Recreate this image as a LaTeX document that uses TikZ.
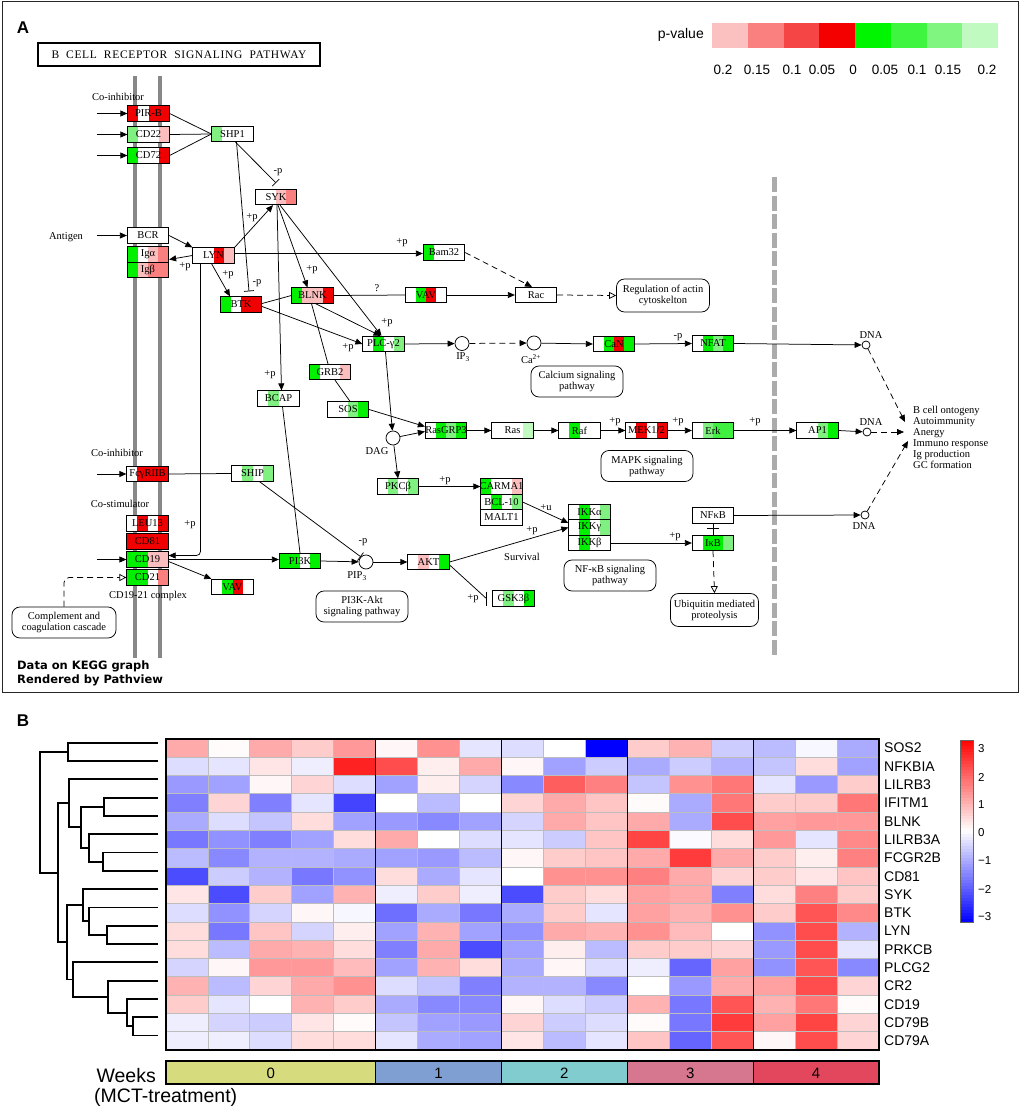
\documentclass[tikz,border=0pt]{standalone}
\usepackage{fontspec}
\setmainfont{Liberation Serif}
\newfontfamily\sansf{Liberation Sans}
\newfontfamily\dejaf{DejaVu Sans}
\usetikzlibrary{arrows.meta}
\definecolor{kW}{HTML}{FFFFFF}
\definecolor{kR}{HTML}{F00000}
\definecolor{kP}{HTML}{FA8080}
\definecolor{kLP}{HTML}{FBBEBE}
\definecolor{kG}{HTML}{00F000}
\definecolor{kMG}{HTML}{40F040}
\definecolor{kLG}{HTML}{80F080}
\definecolor{kVLG}{HTML}{C0FAC0}
\definecolor{memb}{HTML}{888888}
\definecolor{divg}{HTML}{ABABAB}
\definecolor{lga}{HTML}{FBC0C0}
\definecolor{lgb}{HTML}{FA8080}
\definecolor{lgc}{HTML}{F54545}
\definecolor{lgd}{HTML}{F50000}
\definecolor{lge}{HTML}{00F500}
\definecolor{lgf}{HTML}{40F540}
\definecolor{lgg}{HTML}{80F580}
\definecolor{lgh}{HTML}{C0FAC0}
\definecolor{wka}{HTML}{D6DB7E}
\definecolor{wkb}{HTML}{7F9FD2}
\definecolor{wkc}{HTML}{80CCCF}
\definecolor{wkd}{HTML}{D6768F}
\definecolor{wke}{HTML}{E2475E}
\definecolor{cellg}{HTML}{BDBDBD}
\newcommand\genefont{\fontsize{10.5}{11}\selectfont}
\newcommand\lblfont{\fontsize{10.5}{11}\selectfont}
\newcommand\pwfont{\fontsize{10.5}{11}\selectfont}
\newcommand\gene[4]{\node[gbox, path picture={\foreach \cc [count=\ii from 0] in {#4}{\fill[\cc] ([xshift=\ii*10.375pt]path picture bounding box.south west) rectangle ([xshift=\ii*10.375pt+10.375pt]path picture bounding box.north west);}}] (#1) at (#2) {\makebox[0pt][c]{#3}};}
\tikzset{
 gbox/.style={draw, line width=0.75pt, minimum width=41.5pt, minimum height=15.5pt, inner sep=0pt, font=\genefont},
 cmp/.style={circle, draw, line width=0.75pt, minimum size=14pt, inner sep=0pt, fill=white},
 dnac/.style={circle, draw, line width=0.75pt, minimum size=8pt, inner sep=0pt, fill=white},
 pw/.style={draw, rounded corners=8pt, line width=0.75pt, align=center, font=\pwfont, inner sep=1pt, minimum width=92pt, minimum height=31pt},
 lbl/.style={font=\lblfont, inner sep=0pt},
 actv/.style={-{Triangle[length=7pt,width=6pt]}, line width=0.75pt},
 inhb/.style={-{Bar[width=10pt]}, line width=0.75pt},
 lnk/.style={line width=0.75pt},
 indr/.style={dash pattern=on 6pt off 4pt, line width=0.75pt, -{Triangle[length=7pt,width=6pt]}},
 indo/.style={dash pattern=on 6pt off 4pt, line width=0.75pt, -{Triangle[open,length=7pt,width=7pt]}},
 hlab/.style={font=\sansf\fontsize{14}{14}\selectfont, anchor=west, inner sep=0pt},
 cblab/.style={font=\sansf\fontsize{11.5}{12}\selectfont, anchor=west, inner sep=0pt},
 dendro/.style={line width=1.8pt, line join=miter},
}
\begin{document}
\begin{tikzpicture}[x=1pt,y=-1pt]
\useasboundingbox (0,0) rectangle (1021,1110);
\fill[white] (0,0) rectangle (1021,1110);
% ================= PANEL A =================
\draw[line width=1pt, black!85] (2,2) rectangle (1018,692);
\node[font=\sansf\bfseries\fontsize{17}{17}\selectfont, inner sep=0pt] (LA) at (23,28) {A};
\node[draw, line width=1.4pt, minimum width=282pt, minimum height=23pt, inner sep=0pt, font=\fontsize{11.5}{12}\selectfont] (TITLE) at (179,54.5) {\makebox[255pt][s]{\addfontfeature{LetterSpace=6}B CELL RECEPTOR SIGNALING PATHWAY}};
% membranes and divider
\draw[line width=3.5pt, memb] (135,76) -- (135,658);
\draw[line width=3.5pt, memb] (160,76) -- (160,658);
\draw[line width=5pt, divg, dash pattern=on 15pt off 3.5pt] (774,177) -- (774,655);
% legend
\node[font=\sansf\fontsize{14}{14}\selectfont, anchor=east, inner sep=0pt] (PV) at (704,35) {p-value};
\foreach \cc [count=\i from 0] in {lga,lgb,lgc,lgd,lge,lgf,lgg,lgh}
  \fill[\cc] ({712+\i*35.75},23) rectangle ({712+(\i+1)*35.75},48);
\foreach \t/\xx [count=\i] in {0.2/723,0.15/757,0.1/792,0.05/822,0/853,0.05/885,0.1/917,0.15/948,0.2/987}
  \node[font=\sansf\fontsize{13.5}{14}\selectfont, inner sep=0pt] (lv\i) at (\xx,70) {\t};
% gene boxes
\gene{PIRB}{148.5,113.5}{PIR-B}{kR,kW,kR,kR}
\gene{CD22}{148.5,134.5}{CD22}{kLG,kW,kW,kLP}
\gene{CD72}{148.5,155.5}{CD72}{kG,kW,kW,kR}
\gene{SHP1}{232.5,134}{SHP1}{kLG,kW,kW,kW}
\gene{SYK}{276,197}{SYK}{kW,kW,kLP,kP}
\gene{BCR}{148,235.5}{BCR}{kW,kW,kW,kW}
\gene{IGA}{148,254.5}{Igα}{kG,kW,kLP,kP}
\gene{IGB}{148,270}{Igβ}{kG,kLP,kP,kP}
\gene{LYN}{213.5,255.5}{LYN}{kW,kW,kR,kLP}
\gene{BTK}{241,304.5}{BTK}{kG,kW,kR,kR}
\gene{BLNK}{312.5,295.5}{BLNK}{kG,kLP,kLP,kR}
\gene{BAM}{444,252.5}{Bam32}{kG,kW,kW,kW}
\gene{VAVa}{426,295}{VAV}{kW,kG,kR,kW}
\gene{RAC}{536,295}{Rac}{kW,kW,kW,kW}
\gene{PLC}{383.5,344}{PLC-γ2}{kW,kG,kW,kLG}
\gene{GRB}{330,372}{GRB2}{kG,kW,kW,kLP}
\gene{SOS}{348,409.5}{SOS}{kW,kW,kLG,kG}
\gene{BCAP}{278.5,398.5}{BCAP}{kW,kLG,kW,kW}
\gene{RGRP}{446,430.5}{RasGRP3}{kW,kG,kLG,kG}
\gene{RAS}{512.5,430.5}{Ras}{kW,kW,kW,kVLG}
\gene{RAF}{579.5,430.5}{Raf}{kW,kG,kW,kW}
\gene{MEK}{646.5,430.5}{MEK1/2}{kW,kR,kW,kR}
\gene{ERK}{713,430.5}{Erk}{kW,kLG,kMG,kMG}
\gene{APa}{817.5,430.5}{AP1}{kW,kW,kLG,kG}
\gene{CAN}{614,344}{CaN}{kW,kG,kR,kG}
\gene{NFAT}{713,343.5}{NFAT}{kW,kG,kLG,kG}
\gene{PKCB}{398,486.5}{PKCβ}{kW,kLG,kW,kLG}
\gene{CARMA}{501.5,486.5}{CARMA1}{kG,kW,kW,kLP}
\gene{BCLt}{501.5,502}{BCL-10}{kW,kG,kW,kLG}
\gene{MALT}{501.5,517.5}{MALT1}{kW,kW,kW,kW}
\gene{IKKA}{589.5,512}{IKKα}{kW,kG,kW,kLG}
\gene{IKKG}{589.5,527.5}{IKKγ}{kW,kG,kW,kLG}
\gene{IKKB}{589.5,543}{IKKβ}{kW,kG,kW,kW}
\gene{NFKB}{713,515.5}{NFκB}{kW,kW,kW,kW}
\gene{IKB}{713,543}{IκB}{kW,kG,kG,kLG}
\gene{FCG}{147.5,474}{FcγRIIB}{kW,kR,kR,kR}
\gene{SHIP}{252.5,473.5}{SHIP}{kW,kLG,kW,kLG}
\gene{LEU}{147.5,523.5}{LEU13}{kW,kR,kW,kR}
\gene{CD81}{147.5,541.5}{CD81}{kR,kR,kR,kR}
\gene{CD19}{147.5,559.5}{CD19}{kG,kG,kLP,kLP}
\gene{CD21}{147.5,577.5}{CD21}{kG,kG,kW,kP}
\gene{PIK}{300,561}{PI3K}{kG,kG,kW,kG}
\gene{VAVb}{232.5,587}{VAV}{kW,kG,kR,kW}
\gene{AKT}{428.5,562}{AKT}{kW,kLP,kW,kG}
\gene{GSK}{513.5,598.5}{GSK3β}{kW,kLG,kW,kG}
% compounds
\node[cmp] (IP) at (462,343.5) {};
\node[cmp] (CA) at (534,343) {};
\node[cmp] (DAG) at (393,438) {};
\node[cmp] (PIP) at (366,562) {};
\node[dnac] (DNAa) at (866,345) {};
\node[dnac] (DNAb) at (867,432) {};
\node[dnac] (DNAc) at (865,515) {};
% pathway boxes
\node[pw, minimum width=93pt, minimum height=33pt] (REG) at (663,295.5) {Regulation of actin\\cytoskelton};
\node[pw] (CALC) at (577,381.5) {Calcium signaling\\pathway};
\node[pw] (MAPK) at (647,466) {MAPK signaling\\pathway};
\node[pw] (NFPW) at (610,575.5) {NF-κB signaling\\pathway};
\node[pw] (PIPW) at (362,606.5) {PI3K-Akt\\signaling pathway};
\node[pw, minimum width=88pt, minimum height=33pt] (UBQ) at (714.5,610) {Ubiquitin mediated\\proteolysis};
\node[pw, minimum width=104pt] (CMP) at (64,622.5) {Complement and\\coagulation cascade};
% text labels
\node[lbl] (tCoI) at (118,97) {Co-inhibitor};
\node[lbl] (tAnt) at (66,237) {Antigen};
\node[lbl] (tCoIb) at (117,453) {Co-inhibitor};
\node[lbl] (tCoS) at (120,504) {Co-stimulator};
\node[lbl] (tCplx) at (148,596) {CD19-21 complex};
\node[lbl] (tSurv) at (522,557) {Survival};
\node[lbl] (tDAG) at (377,451) {DAG};
\node[lbl] (tIP) at (463,357) {IP\textsubscript{3}};
\node[lbl] (tCa) at (531,359) {Ca\textsuperscript{2+}};
\node[lbl] (tPIP) at (357,576) {PIP\textsubscript{3}};
\node[lbl] (tDNAa) at (871,335) {DNA};
\node[lbl] (tDNAb) at (871,422) {DNA};
\node[lbl] (tDNAc) at (864,526) {DNA};
\node[lbl, align=left, anchor=north west] (OUT) at (913,406) {B cell ontogeny\\Autoimmunity\\Anergy\\Immuno response\\Ig production\\GC formation};
\node[font=\dejaf\bfseries\fontsize{11.5}{14}\selectfont, align=left, anchor=north west, inner sep=0pt] (CRED) at (17,661) {Data on KEGG graph\\Rendered by Pathview};
% edge labels
\node[lbl] (e1) at (278,172) {-p};
\node[lbl] (e2) at (257,283) {-p};
\node[lbl] (e3) at (185,267) {+p};
\node[lbl] (e4) at (252,218) {+p};
\node[lbl] (e5) at (228,275) {+p};
\node[lbl] (e6) at (402,243) {+p};
\node[lbl] (e7) at (190,525) {+p};
\node[lbl] (e8) at (270,375) {+p};
\node[lbl] (e9) at (312,270) {+p};
\node[lbl] (e10) at (387,323) {+p};
\node[lbl] (e11) at (348,348) {+p};
\node[lbl] (e12) at (377,288) {?};
\node[lbl] (e13) at (445,481) {+p};
\node[lbl] (e14) at (546,508) {+u};
\node[lbl] (e15) at (532,531) {+p};
\node[lbl] (e16) at (675,537) {+p};
\node[lbl] (e17) at (363,542) {-p};
\node[lbl] (e18) at (473,599) {+p};
\node[lbl] (e19) at (678,337) {-p};
\node[lbl] (e20) at (615,422) {+p};
\node[lbl] (e21) at (678,422) {+p};
\node[lbl] (e22) at (755,422) {+p};
% free ends
\coordinate (inPIRB) at (97,113.5);
\coordinate (inCD22) at (97,134.5);
\coordinate (inCD72) at (97,155.5);
\coordinate (inBCR) at (97,235.5);
\coordinate (inFCG) at (97,474);
\coordinate (inCD19) at (97,559.5);
\coordinate (outa) at (905,422);
\coordinate (outb) at (904,432);
\coordinate (outc) at (908,441);
% edges
\draw[actv] (inPIRB) -- (PIRB.west);
\draw[actv] (inCD22) -- (CD22.west);
\draw[actv] (inCD72) -- (CD72.west);
\draw[actv] (inBCR) -- (BCR.west);
\draw[actv] (inFCG) -- (FCG.west);
\draw[actv] (inCD19) -- (CD19.west);
\draw[lnk] (PIRB.east) -- (SHP1.west);
\draw[lnk] (CD22.east) -- (SHP1.west);
\draw[lnk] (CD72.east) -- (SHP1.west);
\draw[inhb] ([xshift=3pt]SHP1.south) -- ([yshift=6pt]SYK.north);
\draw[inhb] ([xshift=4pt]SHP1.south) -- ([xshift=8pt,yshift=5pt]BTK.north);
\draw[actv] (BCR.east) -- (LYN.north west);
\draw[actv] (LYN.west) -- ([yshift=-5pt]IGA.east);
\draw[actv] (LYN.north east) -- ([xshift=-3pt]SYK.south);
\draw[actv] ([yshift=2pt]LYN.east) -- ([yshift=-1pt]BAM.west);
\draw[actv] ([xshift=-2pt]LYN.south) -- ([xshift=-11pt]BTK.north);
\draw[actv, rounded corners=4pt] ([xshift=-13pt]LYN.south) |- ([yshift=4pt]CD19.east);
\draw[actv] ([xshift=1pt]SYK.south) -- ([xshift=3pt]BCAP.north);
\draw[actv] ([xshift=2pt]SYK.south) -- ([xshift=-5pt]BLNK.north);
\draw[actv] ([xshift=4pt]SYK.south) -- ([xshift=-2pt]PLC.north);
\draw[lnk] ([yshift=1pt]BTK.east) -- (BLNK.west);
\draw[actv] ([yshift=-2pt]BTK.east) -- (PLC.west);
\draw[actv] ([xshift=3pt]BLNK.south) -- ([xshift=-3pt]PLC.north);
\draw[lnk] (BLNK.east) -- (VAVa.west);
\draw[actv] (VAVa.east) -- (RAC.west);
\draw[indr] (BAM.east) -- ([xshift=-4pt]RAC.north);
\draw[indo] (RAC.east) -- (REG.west);
\draw[lnk] ([xshift=4pt]BCAP.south) -- (PIK.north);
\draw[lnk] ([xshift=-1pt]BLNK.south) -- ([xshift=-2pt]GRB.north);
\draw[lnk] ([xshift=5pt]GRB.south) -- ([xshift=2pt]SOS.north);
\draw[actv] (SOS.east) -- ([yshift=4pt]RGRP.west);
\draw[actv] ([xshift=2pt]PLC.south) -- (DAG);
\draw[actv] (DAG) -- ([yshift=-1pt]RGRP.west);
\draw[actv] (DAG) -- (PKCB.north);
\draw[actv] (PKCB.east) -- (CARMA.west);
\draw[actv] (BCLt.east) -- ([yshift=4.5pt]IKKG.west);
\draw[actv] (AKT.east) -- (IKKG.west);
\draw[actv] (IKKB.east) -- (IKB.west);
\draw[lnk] (NFKB.south) -- (IKB.north);
\draw[lnk] ([xshift=-6pt,yshift=-5pt]NFKB.south) -- ([xshift=6pt,yshift=-5pt]NFKB.south);
\draw[indo] (IKB.south) -- (UBQ.north);
\draw[actv] (NFKB.east) -- (DNAc);
\draw[indr] (DNAc) -- (outc);
\draw[actv] (PLC.east) -- (IP);
\draw[indr] (IP) -- (CA);
\draw[actv] (CA) -- (CAN.west);
\draw[actv] (CAN.east) -- (NFAT.west);
\draw[actv] (NFAT.east) -- (DNAa);
\draw[indr] (DNAa) -- (outa);
\draw[actv] (RGRP.east) -- (RAS.west);
\draw[actv] (RAS.east) -- (RAF.west);
\draw[actv] (RAF.east) -- (MEK.west);
\draw[actv] (MEK.east) -- (ERK.west);
\draw[actv] (ERK.east) -- (APa.west);
\draw[actv] (APa.east) -- (DNAb);
\draw[indr] (DNAb) -- (outb);
\draw[lnk] (FCG.east) -- (SHIP.west);
\draw[inhb] ([xshift=7pt]SHIP.south) -- (PIP.north west);
\draw[actv] (CD19.east) -- (CD19.east -| PIK.west);
\draw[actv] ([yshift=-2pt]CD19.east) -- (VAVb.north west);
\draw[actv] (PIK.east) -- (PIP);
\draw[actv] (PIP) -- (AKT.west);
\draw[lnk] ([yshift=-3pt]AKT.east) -- ([xshift=-6pt]GSK.west);
\draw[lnk] ([xshift=-6pt,yshift=7pt]GSK.west) -- ([xshift=-6pt,yshift=-7pt]GSK.west);
\draw[indo, rounded corners=5pt] (CMP.north) |- (CD21.west);
% ================= PANEL B =================
\node[font=\sansf\bfseries\fontsize{17}{17}\selectfont, inner sep=0pt] (LB) at (23,721) {B};
\foreach \row [count=\r from 0] in {
{1.0,0.05,1.0,0.6,1.2,0.1,1.3,-0.3,-0.4,0.0,-3.0,0.6,0.9,-0.6,-0.8,-0.1,-1.0},
{-0.4,-0.3,0.3,-0.2,2.6,2.1,0.2,1.0,0.1,-1.1,-0.6,-1.0,-0.6,-0.9,-0.7,0.4,-1.1},
{-1.2,-1.1,0.1,0.5,-0.4,-1.1,0.2,-0.5,-1.4,1.9,1.5,-0.7,1.3,1.6,-0.3,-1.2,0.6},
{-1.5,0.5,-1.5,-0.3,-2.2,0.0,-0.8,0.0,0.5,1.0,0.7,0.05,-1.0,1.6,0.6,0.6,1.6},
{-1.0,-0.4,-0.7,0.4,-1.1,-1.2,-1.4,-1.1,-0.5,1.0,0.7,1.0,-1.0,2.1,1.1,1.2,1.2},
{-1.6,-1.3,-1.5,-1.1,0.4,1.0,0.0,-0.4,-0.3,-0.6,0.7,2.2,-0.05,0.4,1.2,-0.3,1.4},
{-0.8,-1.4,-0.9,-0.9,-1.0,-1.1,-1.2,-0.8,0.1,0.6,0.7,1.0,2.3,1.0,0.6,0.2,1.5},
{-2.1,-0.6,-0.9,-1.6,-1.3,0.4,-1.0,-0.3,0.0,1.3,1.3,1.5,1.0,0.5,0.6,0.3,0.7},
{0.3,-2.1,0.6,-1.1,0.9,-0.2,0.6,-0.2,-2.1,0.6,0.4,1.1,1.0,-1.5,0.4,1.5,0.6},
{-0.4,-1.3,-0.5,0.1,-0.1,-1.7,-1.0,-1.6,-1.0,0.6,-0.3,1.1,0.9,1.3,0.6,2.0,1.4},
{0.4,-1.6,0.7,-0.5,0.2,-1.1,0.9,-1.1,-1.3,1.0,0.9,1.3,0.8,0.0,-1.3,2.1,-0.9},
{0.4,-0.8,1.0,0.9,0.4,-1.5,1.0,-2.1,-1.1,0.2,-0.8,0.6,0.6,0.5,-1.2,2.1,-0.3},
{-0.5,0.1,1.2,1.2,0.8,-1.1,0.9,0.4,-1.0,0.1,-0.4,-0.2,-1.8,1.1,-1.3,2.0,-1.4},
{0.9,-0.8,0.5,1.0,1.3,-0.4,-0.7,-1.5,-0.9,-0.9,-1.4,0.0,-1.2,1.0,1.1,2.1,0.5},
{0.6,-0.3,0.0,0.9,0.6,-1.0,-1.4,-1.4,0.1,-0.4,-0.6,0.9,-1.6,2.0,0.9,1.6,0.05},
{-0.2,-0.5,-0.6,0.3,0.05,-0.7,-1.1,-1.2,0.5,-0.6,-0.4,0.05,-1.6,2.3,1.1,2.2,0.5},
{-0.2,-0.2,-0.4,0.4,0.4,-0.3,-1.0,-1.1,0.3,-0.8,-0.3,0.7,-1.8,2.0,0.1,2.1,0.5}} {
  \foreach \v [count=\c from 0] in \row {
    \pgfmathsetmacro\pct{min(100,abs(\v)*100/3)}
    \pgfmathsetmacro\xa{166+\c*41.941}
    \pgfmathsetmacro\xb{166+(\c+1)*41.941}
    \pgfmathsetmacro\ya{739+\r*18.294}
    \pgfmathsetmacro\yb{739+(\r+1)*18.294}
    \ifdim \v pt<0pt \def\hue{blue}\else\def\hue{red}\fi
    \fill[\hue!\pct!white, draw=cellg, line width=0.8pt] (\xa,\ya) rectangle (\xb,\yb);
  }
}
\foreach \xx in {375.7,501.5,627.3,753.2}
  \draw[line width=1.3pt] (\xx,739) -- (\xx,1050);
\draw[line width=2pt] (166,739) rectangle (879,1050);
\foreach \nm [count=\i from 0] in {SOS2,NFKBIA,LILRB3,IFITM1,BLNK,LILRB3A,FCGR2B,CD81,SYK,BTK,LYN,PRKCB,PLCG2,CR2,CD19,CD79B,CD79A}
  \node[hlab] (rl\i) at (884,{748.15+18.294*\i}) {\nm};
% dendrogram
\draw[dendro] (158,742.7) -- (68.3,742.7) -- (68.3,761) -- (158,761);
\draw[dendro] (158,797.6) -- (104.3,797.6) -- (104.3,815.9) -- (158,815.9);
\draw[dendro] (158,852.5) -- (103.3,852.5) -- (103.3,870.8) -- (158,870.8);
\draw[dendro] (158,834.2) -- (89,834.2) -- (89,861.65) -- (103.3,861.65);
\draw[dendro] (104.3,806.75) -- (80.7,806.75) -- (80.7,847.9) -- (89,847.9);
\draw[dendro] (158,779.3) -- (69,779.3) -- (69,827.3) -- (80.7,827.3);
\draw[dendro] (158,925.7) -- (107.3,925.7) -- (107.3,944) -- (158,944);
\draw[dendro] (158,907.4) -- (89,907.4) -- (89,934.85) -- (107.3,934.85);
\draw[dendro] (158,889.1) -- (83.3,889.1) -- (83.3,921.1) -- (89,921.1);
\draw[dendro] (158,1017.2) -- (133.3,1017.2) -- (133.3,1035.5) -- (158,1035.5);
\draw[dendro] (158,998.9) -- (126.7,998.9) -- (126.7,1026.35) -- (133.3,1026.35);
\draw[dendro] (158,980.6) -- (108.3,980.6) -- (108.3,1012.6) -- (126.7,1012.6);
\draw[dendro] (158,962.3) -- (73.3,962.3) -- (73.3,996.6) -- (108.3,996.6);
\draw[dendro] (83.3,905.1) -- (66.7,905.1) -- (66.7,979.45) -- (73.3,979.45);
\draw[dendro] (69,803.3) -- (57.7,803.3) -- (57.7,942.3) -- (66.7,942.3);
\draw[dendro] (68.3,751.85) -- (40,751.85) -- (40,872.8) -- (57.7,872.8);
% colour bar
\foreach \k in {0,...,59} {
  \pgfmathsetmacro\vv{3-(\k+0.5)*0.1}
  \pgfmathsetmacro\pc{min(100,abs(\vv)*100/3)}
  \ifdim \vv pt<0pt \def\hue{blue}\else\def\hue{red}\fi
  \fill[\hue!\pc!white] (960,{740+\k*3.0333}) rectangle (973,{740+(\k+1)*3.0333+0.4});
}
\draw[line width=0.8pt, black!60] (960,740) rectangle (973,922);
\foreach \t/\yy [count=\i] in {3/749,2/777,1/805,0/833,−1/861,−2/889,−3/917}
  \node[cblab] (cb\i) at (978,\yy) {\t};
% weeks bar
\fill[wka] (166,1061) rectangle (375.7,1084);
\fill[wkb] (375.7,1061) rectangle (501.5,1084);
\fill[wkc] (501.5,1061) rectangle (627.3,1084);
\fill[wkd] (627.3,1061) rectangle (753.2,1084);
\fill[wke] (753.2,1061) rectangle (879,1084);
\foreach \xx in {375.7,501.5,627.3,753.2}
  \draw[line width=1.3pt] (\xx,1061) -- (\xx,1084);
\draw[line width=2pt] (166,1061) rectangle (879,1084);
\foreach \t/\xx [count=\i] in {0/270.8,1/438.6,2/564.4,3/690.2,4/816.1}
  \node[font=\sansf\fontsize{15}{15}\selectfont, inner sep=0pt] (wn\i) at (\xx,1073) {\t};
\node[font=\sansf\fontsize{19.5}{20}\selectfont, anchor=east, inner sep=0pt] (WK) at (156,1076) {Weeks};
\node[font=\sansf\fontsize{19.5}{20}\selectfont, anchor=west, inner sep=0pt] (MCT) at (94,1097) {(MCT-treatment)};
\end{tikzpicture}
\end{document}
